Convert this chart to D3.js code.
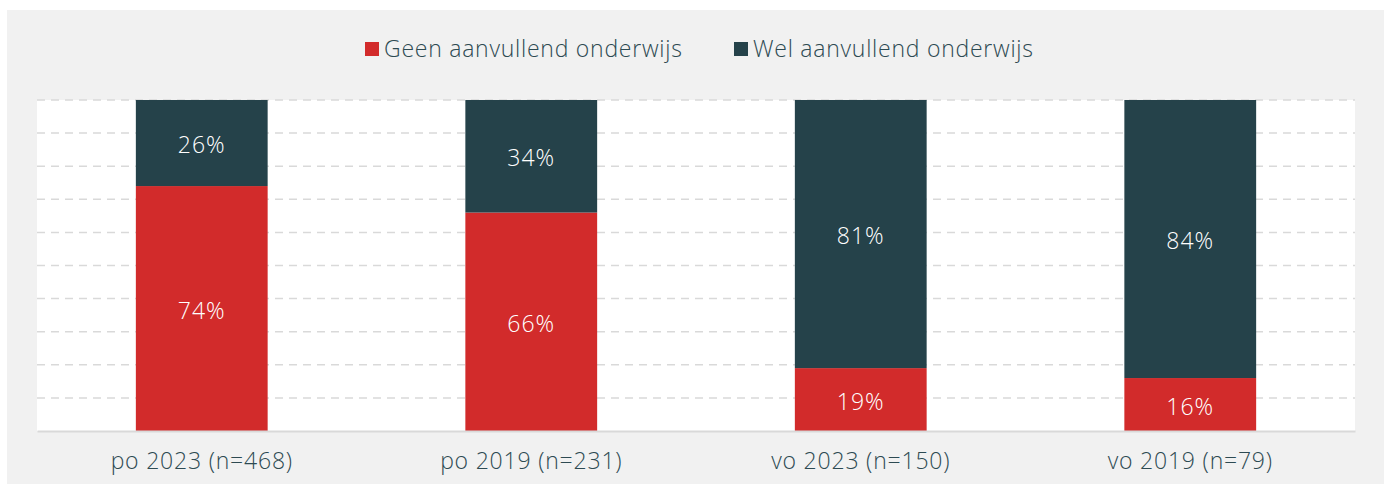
<!DOCTYPE html>
<html lang="nl">
<head>
  <meta charset="UTF-8">
  <script src="https://d3js.org/d3.v7.min.js"></script>
  <style>
    body { margin: 0; background: #fff; font-family: "Open Sans", Lato, sans-serif; font-weight: 300; }
  </style>
</head>
<body>
<div id="chart"></div>
<script>
const categories = ['po 2023 (n=468)', 'po 2019 (n=231)', 'vo 2023 (n=150)', 'vo 2019 (n=79)'];
const seriesNames = ['Geen aanvullend onderwijs', 'Wel aanvullend onderwijs'];
const geen = [74, 66, 19, 16];
const wel = [26, 34, 81, 84];
const colors = ['#d22b2b', '#25424a'];

const W = 1389, H = 484;
const FONT = '"Open Sans", Lato, sans-serif';
const svg = d3.select('#chart').append('svg').attr('width', W).attr('height', H)
  .attr('font-family', FONT).attr('font-weight', 300);

// grey panel
svg.append('rect').attr('x', 7).attr('y', 10).attr('width', 1377).attr('height', H - 10).attr('fill', '#f1f1f1');

const plot = { left: 37, right: 1355, top: 100, bottom: 431 };
svg.append('rect').attr('x', plot.left).attr('y', plot.top)
  .attr('width', plot.right - plot.left).attr('height', plot.bottom - plot.top).attr('fill', '#fff');

const x = d3.scaleBand().domain(categories).range([plot.left, plot.right]).paddingInner(0.6).paddingOuter(0.3);
const y = d3.scaleLinear().domain([0, 100]).range([plot.bottom, plot.top]);

// dashed gridlines
svg.append('g').selectAll('line').data(d3.range(10, 101, 10)).join('line')
  .attr('x1', plot.left).attr('x2', plot.right)
  .attr('y1', d => y(d)).attr('y2', d => y(d))
  .attr('stroke', '#d9d9d9').attr('stroke-width', 1.5).attr('stroke-dasharray', '8,6');

const rows = categories.map((c, i) => ({ cat: c, vals: [geen[i], wel[i]] }));
const stack = d3.stack().keys([0, 1]).value((d, k) => d.vals[k])(rows);

stack.forEach((layer, k) => {
  const g = svg.append('g');
  g.selectAll('rect').data(layer).join('rect')
    .attr('x', d => x(d.data.cat)).attr('width', x.bandwidth())
    .attr('y', d => y(d[1])).attr('height', d => y(d[0]) - y(d[1]))
    .attr('fill', colors[k]);
  g.selectAll('text').data(layer).join('text')
    .attr('x', d => x(d.data.cat) + x.bandwidth() / 2)
    .attr('y', d => (y(d[0]) + y(d[1])) / 2)
    .attr('dy', '0.44em').attr('text-anchor', 'middle')
    .attr('fill', '#fff').attr('font-size', 23).attr('letter-spacing', 1)
    .text(d => (d[1] - d[0]) + '%');
});

// x axis
const xAxis = svg.append('g').attr('transform', `translate(0,${plot.bottom})`)
  .call(d3.axisBottom(x).tickSize(0).tickPadding(22));
xAxis.select('.domain').attr('stroke', '#d9d9d9').attr('stroke-width', 2);
xAxis.selectAll('text').attr('font-size', 23).attr('fill', '#2d4a52')
  .attr('letter-spacing', 0.8).attr('font-family', FONT).attr('font-weight', 300);

// legend
const legend = svg.append('g');
const legendX = [365, 734];
seriesNames.forEach((name, k) => {
  legend.append('rect').attr('x', legendX[k]).attr('y', 42).attr('width', 14).attr('height', 14).attr('fill', colors[k]);
  legend.append('text').attr('x', legendX[k] + 19).attr('y', 49).attr('dy', '0.36em')
    .attr('font-size', 23).attr('letter-spacing', 0.75).attr('fill', '#2d4a52').text(name);
});
</script>
</body>
</html>
